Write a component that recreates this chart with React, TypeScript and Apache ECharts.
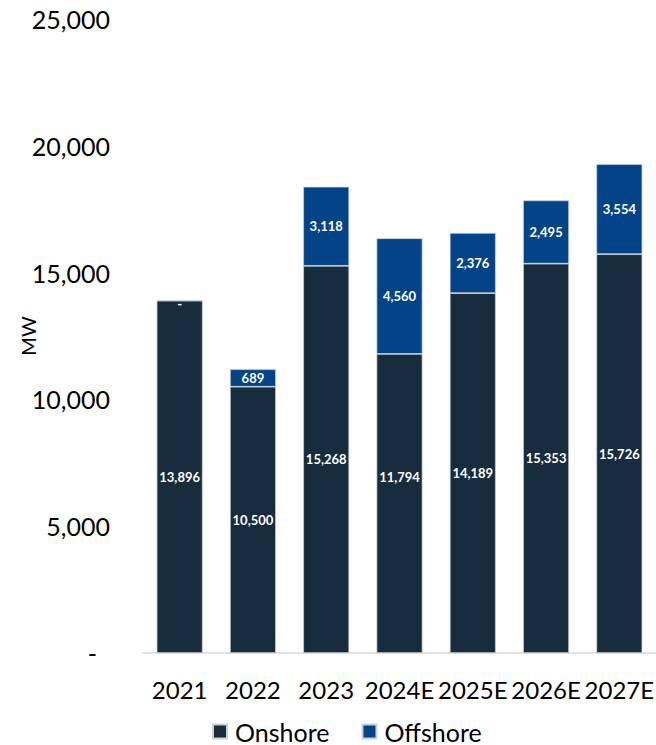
import React, { useEffect, useRef } from "react";
import * as echarts from "echarts";

const categories = ["2021", "2022", "2023", "2024E", "2025E", "2026E", "2027E"];
const onshore = [13896, 10500, 15268, 11794, 14189, 15353, 15726];
const offshore = [0, 689, 3118, 4560, 2376, 2495, 3554];
const seriesNames = ["Onshore", "Offshore"];
const yTicks = { min: 0, max: 25000, interval: 5000 };

const FONT = "Lato";
const fmt = (v: number) => (v === 0 ? "-" : v.toLocaleString("en-US"));

export default function App() {
  const ref = useRef<HTMLDivElement>(null);
  useEffect(() => {
    if (!ref.current) return;
    const chart = echarts.init(ref.current, undefined, { renderer: "svg" });
    const labelStyle = {
      show: true,
      position: "inside" as const,
      color: "#ffffff",
      fontFamily: FONT,
      fontWeight: "bold" as const,
      fontSize: 13,
      formatter: (p: any) => fmt(p.value as number),
    };
    chart.setOption({
      animation: false,
      backgroundColor: "#ffffff",
      textStyle: { fontFamily: FONT },
      grid: { left: 143, right: 0, top: 19, bottom: 92, outerBoundsMode: "none", containLabel: false },
      legend: {
        data: seriesNames,
        bottom: -4,
        left: 207,
        icon: "rect",
        itemWidth: 14,
        itemHeight: 14,
        itemGap: 32,
        textStyle: { fontFamily: FONT, fontSize: 25, color: "#000000", padding: [0, 0, 0, 3] },
      },
      xAxis: {
        type: "category",
        data: categories,
        axisLine: { show: true, lineStyle: { color: "#d9d9d9", width: 1.5 } },
        axisTick: { show: false },
        axisLabel: { fontFamily: FONT, fontSize: 24, color: "#000000", margin: 24, interval: 0 },
      },
      yAxis: {
        type: "value",
        min: yTicks.min,
        max: yTicks.max,
        interval: yTicks.interval,
        name: "MW",
        nameLocation: "middle",
        nameGap: 105,
        nameMoveOverlap: false,
        nameTextStyle: { fontFamily: FONT, fontSize: 20, color: "#000000" },
        axisLine: { show: false },
        axisTick: { show: false },
        splitLine: { show: false },
        axisLabel: {
          fontFamily: FONT,
          fontSize: 25,
          color: "#000000",
          margin: 33,
          formatter: (v: number) => (v === 0 ? "{z|-}" : v.toLocaleString("en-US")),
          rich: { z: { fontFamily: FONT, fontSize: 25, color: "#000000", padding: [0, 13, 0, 0] } },
        },
      },
      series: [
        {
          name: seriesNames[0],
          type: "bar",
          stack: "total",
          barWidth: 46,
          itemStyle: { color: "#172c3c", borderColor: "#c9d1d9", borderWidth: 0.75 },
          label: labelStyle,
          data: onshore.map((v, i) =>
            i === 3 ? { value: v, label: { offset: [0, -26] } } : v
          ),
        },
        {
          name: seriesNames[1],
          type: "bar",
          stack: "total",
          barWidth: 46,
          itemStyle: { color: "#024487", borderColor: "#c9d1d9", borderWidth: 0.75 },
          label: labelStyle,
          data: offshore.map((v) =>
            v === 0 ? { value: v, label: { offset: [0, 3] } } : v
          ),
        },
      ],
    });
    return () => chart.dispose();
  }, []);
  return (
    <div
      ref={ref}
      style={{ position: "absolute", left: 0, top: 0, width: 656, height: 745 }}
    />
  );
}
